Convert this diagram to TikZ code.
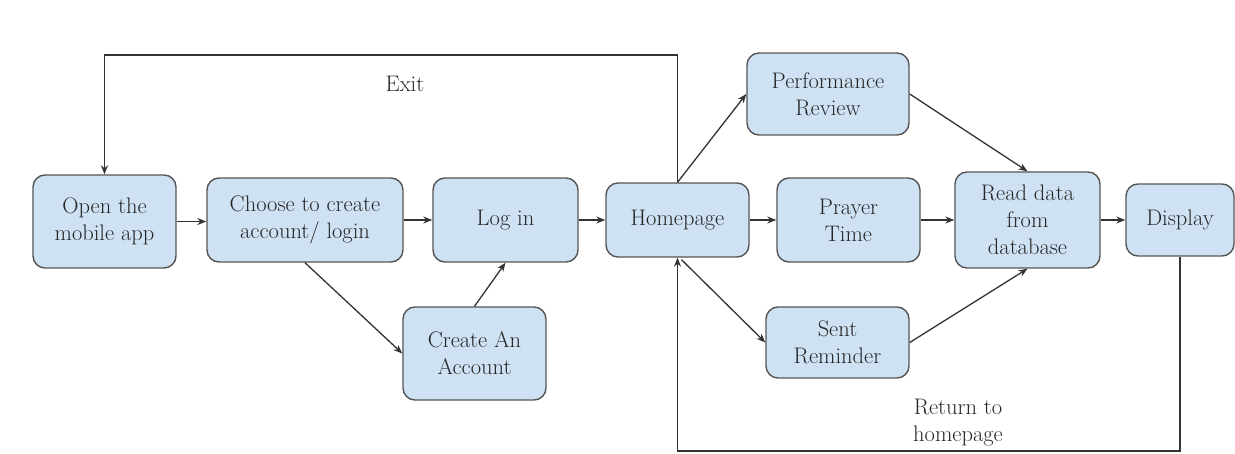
\documentclass[tikz,border=0pt]{standalone}
\usetikzlibrary{arrows.meta,calc}
\definecolor{boxfill}{HTML}{CFE2F3}
\definecolor{boxline}{HTML}{555555}
\definecolor{lncol}{HTML}{333333}
\definecolor{txtcol}{HTML}{262626}
\tikzset{
  box/.style={draw=boxline, line width=1.4pt, fill=boxfill, rounded corners=12pt,
    align=center, text=txtcol, inner sep=2pt,
    font=\fontsize{22.5}{27}\selectfont},
  arr/.style={draw=lncol, line width=1.3pt, -{Stealth[length=9pt,width=7pt]}},
  lab/.style={align=center, text=txtcol, font=\fontsize{22.5}{27}\selectfont}
}
\begin{document}
\begin{tikzpicture}[x=1pt,y=-1pt]
\useasboundingbox (0,0) rectangle (1235,454);
\node[box, minimum width=143pt, minimum height=93pt] (open) at (104.5,221.5) {Open the\\mobile app};
\node[box, minimum width=196pt, minimum height=84pt] (choose) at (305,220) {Choose to create\\account/ login};
\node[box, minimum width=145pt, minimum height=84pt] (login) at (505.5,220) {Log in};
\node[box, minimum width=143pt, minimum height=93pt] (create) at (474.5,353.5) {Create An\\Account};
\node[box, minimum width=143pt, minimum height=74pt] (home) at (677.5,220) {Homepage};
\node[box, minimum width=162pt, minimum height=82pt] (perf) at (828,94) {Performance\\Review};
\node[box, minimum width=143pt, minimum height=84pt] (prayer) at (848.5,220) {Prayer\\Time};
\node[box, minimum width=145pt, minimum height=96pt] (read) at (1027.5,220) {Read data\\from\\database};
\node[box, minimum width=108pt, minimum height=72pt] (display) at (1180,220) {Display};
\node[box, minimum width=143pt, minimum height=71pt] (sent) at (837.5,342.5) {Sent\\Reminder};
\node[lab] (exitlab) at (405,84) {Exit};
\node[lab] (retlab) at (958,423) {Return to\\homepage};
\coordinate (top) at (0,55);
\coordinate (bot) at (0,451);
\draw[arr] (open.east) -- (open.east -| choose.west);
\draw[arr] (choose.east) -- (login.west);
\draw[arr] (login.east) -- (home.west);
\draw[arr] (choose.south) -- (create.west);
\draw[arr] (create.north) -- (login.south);
\draw[arr] (home.north) -- (perf.west);
\draw[arr] (home.east) -- (prayer.west);
\draw[arr] ($(home.south)+(4,2)$) -- (sent.west);
\draw[arr] (perf.east) -- (read.north);
\draw[arr] (prayer.east) -- (read.west);
\draw[arr] (sent.east) -- (read.south);
\draw[arr] (read.east) -- (display.west);
\draw[arr] (home.north) |- (open.north |- top) -- (open.north);
\draw[arr] (display.south) |- (home.south |- bot) -- (home.south);
\end{tikzpicture}
\end{document}
